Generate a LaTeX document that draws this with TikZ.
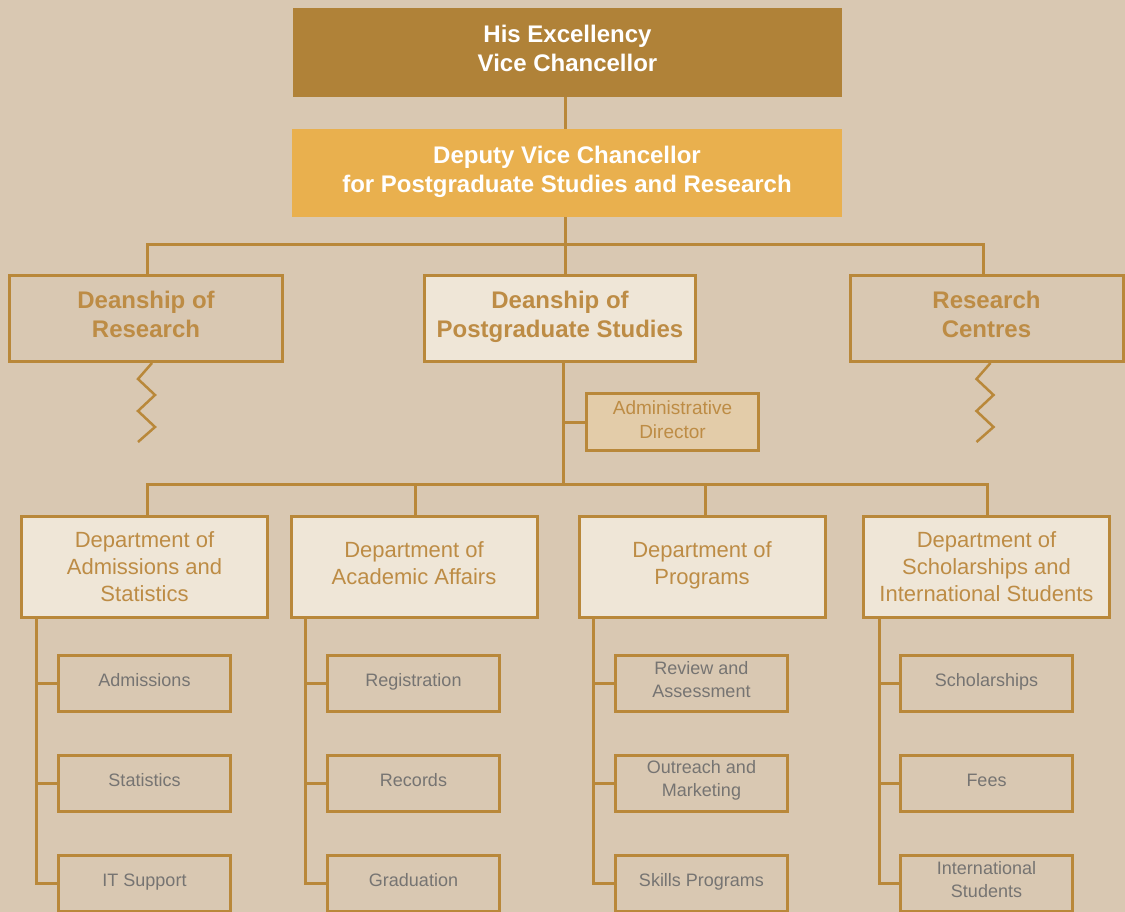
\documentclass[tikz,border=0pt]{standalone}
\usepackage{fontspec}
\setmainfont{Liberation Sans}
\usetikzlibrary{calc}
\definecolor{bg}{HTML}{D9C8B2}
\definecolor{gold}{HTML}{B9883A}
\definecolor{vcfill}{HTML}{B08238}
\definecolor{dvcfill}{HTML}{E9B04E}
\definecolor{lightfill}{HTML}{EFE6D7}
\definecolor{adfill}{HTML}{E3CCA9}
\definecolor{goldtext}{HTML}{BD8C45}
\definecolor{graytext}{HTML}{767472}
\tikzset{
  box/.style={rectangle, draw=gold, line width=3pt, inner sep=0pt, align=center, anchor=center},
  topbox/.style={rectangle, inner sep=0pt, align=center, anchor=center, text=white,
    minimum width=549pt, minimum height=89pt, font=\bfseries\fontsize{24}{29}\selectfont,
    text height=44.2pt, text depth=6pt},
  dean/.style={box, minimum height=86pt, font=\bfseries\fontsize{24}{29}\selectfont, text=goldtext,
    text height=44.2pt, text depth=6pt},
  dept/.style={box, fill=lightfill, minimum width=246pt, minimum height=101pt,
    font=\fontsize{22}{27}\selectfont, text=goldtext},
  twoline/.style={text height=41.75pt, text depth=6pt},
  subbox/.style={box, minimum width=172pt, minimum height=56pt,
    font=\fontsize{18}{23}\selectfont, text=graytext, text height=13pt, text depth=7pt},
  subtwo/.style={text height=33.9pt, text depth=6pt},
  conn/.style={draw=gold, line width=3pt},
}
\begin{document}
\begin{tikzpicture}[x=1pt,y=-1pt]
\useasboundingbox (0,0) rectangle (1125,912);
\fill[bg] (0,0) rectangle (1125,912);
\begin{scope}
\clip (0,0) rectangle (1125,912);
% top
\node[topbox, fill=vcfill] (vc) at (567.5,52.5) {His Excellency\\Vice Chancellor};
\node[topbox, fill=dvcfill, minimum width=550pt, minimum height=88pt] (dvc) at (567,173) {Deputy Vice Chancellor\\for Postgraduate Studies and Research};
% deanships
\node[dean, minimum width=273pt] (dr) at (146,318.5) {Deanship of\\Research};
\node[dean, fill=lightfill, minimum width=271pt] (dpg) at (560,318.5) {Deanship of\\Postgraduate Studies};
\node[dean, minimum width=273pt] (rc) at (986.5,318.5) {Research\\Centres};
\node[box, fill=adfill, minimum width=172pt, minimum height=57pt, font=\fontsize{19}{24}\selectfont, text=goldtext,
  text height=38.6pt, text depth=5pt] (ad) at (672.5,422) {Administrative\\Director};
% departments
\node[dept] (d1) at (144.5,567) {Department of\\Admissions and\\Statistics};
\node[dept, twoline] (d2) at (414,567) {Department of\\Academic Affairs};
\node[dept, twoline] (d3) at (702,567) {Department of\\Programs};
\node[dept] (d4) at (986.5,567) {Department of\\Scholarships and\\International Students};
% sub units
\node[subbox] (s11) at (144.5,683.5) {Admissions};
\node[subbox] (s12) at (144.5,783) {Statistics};
\node[subbox] (s13) at (144.5,883.5) {IT Support};
\node[subbox] (s21) at (413.5,683.5) {Registration};
\node[subbox] (s22) at (413.5,783) {Records};
\node[subbox] (s23) at (413.5,883.5) {Graduation};
\node[subbox, subtwo] (s31) at (701.5,683.5) {Review and\\Assessment};
\node[subbox, subtwo] (s32) at (701.5,783) {Outreach and\\Marketing};
\node[subbox] (s33) at (701.5,883.5) {Skills Programs};
\node[subbox] (s41) at (986.5,683.5) {Scholarships};
\node[subbox] (s42) at (986.5,783) {Fees};
\node[subbox, subtwo] (s43) at (986.5,883.5) {International\\Students};
% connectors top
\coordinate (bus1) at (565,245);
\draw[conn] (vc.south -| bus1) -- (dvc.north -| bus1);
\draw[conn] (dvc.south -| bus1) -- (bus1);
\coordinate (drop1) at ($(dr.north)+(1,0)$);
\coordinate (drop3) at ($(rc.north)+(-3.5,0)$);
\draw[conn] (drop1) -- (drop1 |- bus1) -- (drop3 |- bus1) -- (drop3);
\draw[conn] (bus1) -- (bus1 |- dpg.north);
% zigzags
\coordinate (z1) at ($(dr.south)+(6,0)$);
\draw[conn, line width=2.5pt, line join=miter] (z1) -- ++(-14,16) -- ++(17,16) -- ++(-17,16) -- ++(17,16) -- ++(-17,15);
\coordinate (z2) at ($(rc.south)+(4,0)$);
\draw[conn, line width=2.5pt, line join=miter] (z2) -- ++(-14,16) -- ++(17,16) -- ++(-17,16) -- ++(17,16) -- ++(-17,15);
% deanship PG to departments
\coordinate (spine) at (563,0);
\coordinate (bus2) at (563,484);
\draw[conn] (spine |- dpg.south) -- (bus2);
\draw[conn] (spine |- ad.west) -- (ad.west);
\coordinate (e1) at ($(d1.north)+(2.5,0)$);
\coordinate (e2) at ($(d2.north)+(1,0)$);
\coordinate (e3) at ($(d3.north)+(3,0)$);
\coordinate (e4) at ($(d4.north)+(0.5,0)$);
\draw[conn] (e1) -- (e1 |- bus2) -- (e4 |- bus2) -- (e4);
\draw[conn] (e2 |- bus2) -- (e2);
\draw[conn] (e3 |- bus2) -- (e3);
% sub spines
\foreach \d/\dx in {1/16, 2/16, 3/16, 4/17}{
  \coordinate (sp\d) at ($(d\d.south west)+(\dx,0)$);
  \draw[conn] (sp\d) -- (sp\d |- s\d3.west) -- (s\d3.west);
  \draw[conn] (sp\d |- s\d1.west) -- (s\d1.west);
  \draw[conn] (sp\d |- s\d2.west) -- (s\d2.west);
}
\end{scope}
\end{tikzpicture}
\end{document}
